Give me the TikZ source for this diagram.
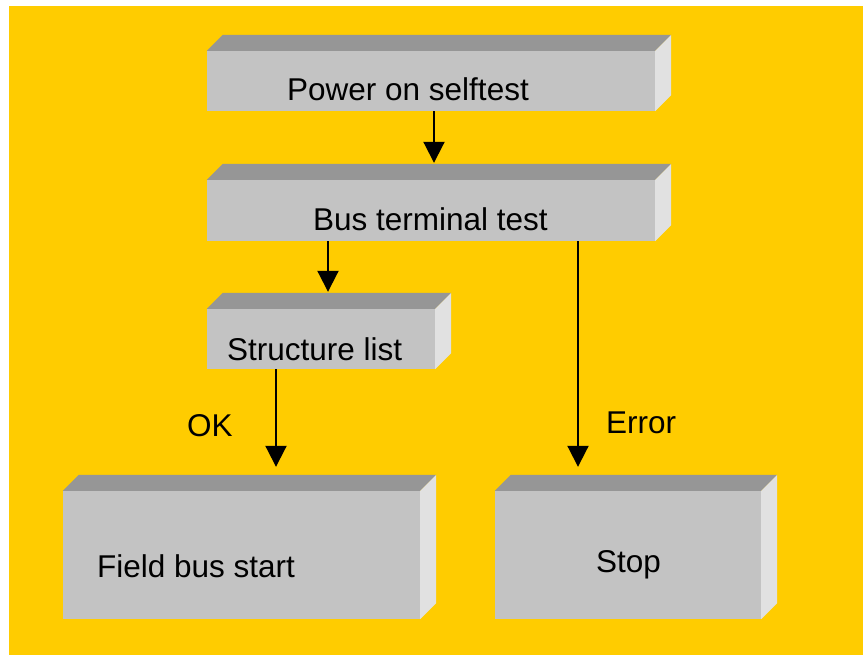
\documentclass[tikz,border=0pt]{standalone}
\usepackage{fontspec}
\setmainfont{Liberation Sans}
\usetikzlibrary{arrows.meta,positioning,calc}
\definecolor{panel}{RGB}{255,204,0}
\definecolor{frontgray}{RGB}{195,195,195}
\definecolor{topgray}{RGB}{150,150,150}
\definecolor{sidegray}{RGB}{225,225,225}

\begin{document}
\begin{tikzpicture}[
    x=1pt, y=-1pt,
    block/.style={rectangle, fill=frontgray, inner sep=0pt},
    caption/.style={inner sep=0pt, anchor=base west, font=\fontsize{31.5}{38}\selectfont},
    flow/.style={-{Triangle[length=21pt, width=21pt]}, line width=2pt}
]
    \useasboundingbox (0,0) rectangle (863,655);
    \fill[panel] (9,6) rectangle (863,655);

    % Boxes (front faces)
    \node[block, minimum width=448, minimum height=60] (power) at (431,81) {};
    \node[block, minimum width=448, minimum height=61] (bus) at (431,210.5) {};
    \node[block, minimum width=228, minimum height=60] (struct) at (321,339) {};
    \node[block, minimum width=357, minimum height=128] (field) at (241.5,555) {};
    \node[block, minimum width=266, minimum height=128] (stop) at (628,555) {};

    % Top and side faces
    \foreach \b in {power,bus,struct,field,stop} {
        \fill[topgray] (\b.north west) -- ++(16,-16) -- ($(\b.north east)+(16,-16)$) -- (\b.north east) -- cycle;
        \fill[sidegray] (\b.north east) -- ++(16,-16) -- ($(\b.south east)+(16,-16)$) -- (\b.south east) -- cycle;
    }

    % Texts
    \node[caption] (power-txt) at (287,101) {Power on selftest};
    \node[caption] (bus-txt) at (313,231) {Bus terminal test};
    \node[caption] (struct-txt) at (227,360) {Structure list};
    \node[caption] (field-txt) at (97,577) {Field bus start};
    \node[caption] (stop-txt) at (596,572) {Stop};
    \node[caption] (ok-txt) at (187,436) {OK};
    \node[caption] (error-txt) at (606,433) {Error};

    % Arrows
    \draw[flow] ($(power.south)+(3,0)$) -- ($(bus.north)+(3,-17)$);
    \draw[flow] ($(bus.south)+(-103,0)$) -- ($(struct.north)+(7,-17)$);
    \draw[flow] ($(struct.south)+(-45,0)$) -- ($(field.north)+(34.5,-24)$);
    \draw[flow] ($(bus.south)+(147,0)$) -- ($(stop.north)+(-50,-24)$);
\end{tikzpicture}
\end{document}
